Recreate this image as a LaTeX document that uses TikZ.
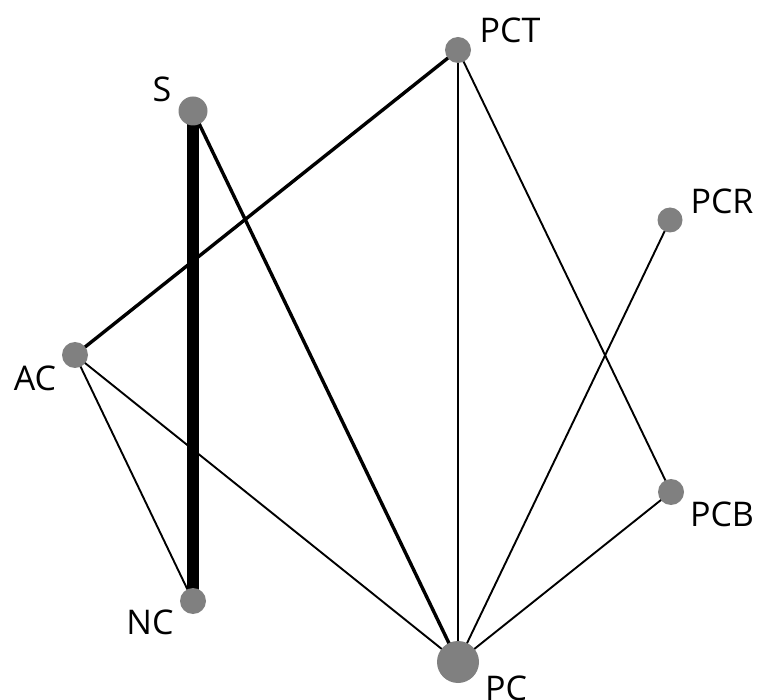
\documentclass[tikz,border=0pt]{standalone}
\usepackage{fontspec}
\setmainfont{Open Sans}
\usetikzlibrary{backgrounds}
\tikzset{
  vert/.style={circle,fill=black!50,draw=none,inner sep=0pt,minimum size=#1},
  lbl/.style={font=\fontsize{34}{34}\selectfont,inner sep=0pt,anchor=center},
  thinedge/.style={line width=1.9pt,black},
  midedge/.style={line width=3.4pt,black},
  fatedge/.style={line width=12pt,black}
}
\begin{document}
\begin{tikzpicture}[x=1pt,y=-1pt]
\useasboundingbox (0,0) rectangle (758,700);
\node[vert=26pt] (PCT) at (458,50) {};
\node[vert=29pt] (S) at (193,111) {};
\node[vert=25pt] (PCR) at (670,220) {};
\node[vert=26pt] (AC) at (75,355) {};
\node[vert=26pt] (PCB) at (671,492) {};
\node[vert=26pt] (NC) at (193,601) {};
\node[vert=42pt] (PC) at (458,662) {};
\node[lbl] (tPCT) at (510,30) {PCT};
\node[lbl] (tS) at (162,89) {S};
\node[lbl] (tPCR) at (722,201) {PCR};
\node[lbl] (tAC) at (35,378) {AC};
\node[lbl] (tPCB) at (722,514) {PCB};
\node[lbl] (tNC) at (150,622) {NC};
\node[lbl] (tPC) at (506,688) {PC};
\begin{scope}[on background layer]
\draw[fatedge] (S.center) -- (NC.center);
\draw[midedge] (S.center) -- (PC.center);
\draw[midedge] (AC.center) -- (PCT.center);
\draw[thinedge] (PCT.center) -- (PC.center);
\draw[thinedge] (PCT.center) -- (PCB.center);
\draw[thinedge] (PCR.center) -- (PC.center);
\draw[thinedge] (PCB.center) -- (PC.center);
\draw[thinedge] (AC.center) -- (PC.center);
\draw[thinedge] (AC.center) -- (NC.center);
\end{scope}
\end{tikzpicture}
\end{document}
